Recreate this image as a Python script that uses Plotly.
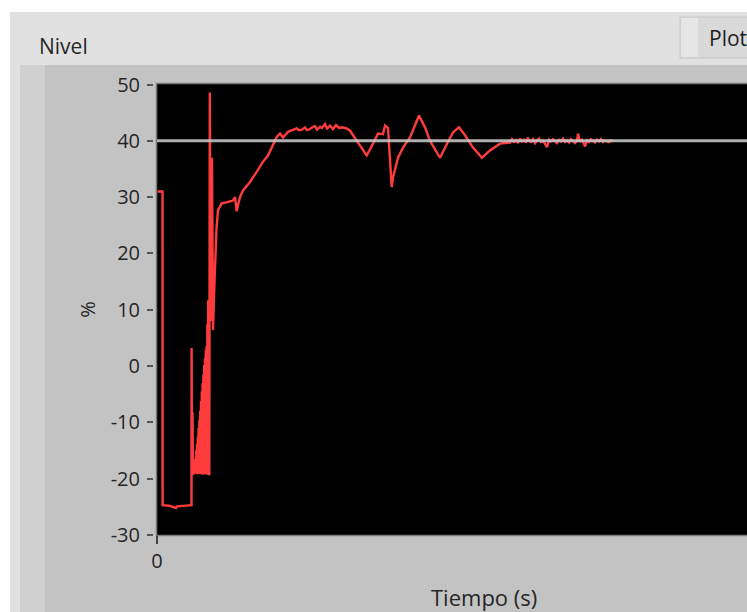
import plotly.graph_objects as go

# ---------------- data ----------------
# time (s) and level (%) of the measured signal
tiempo = [0.5, 5.5, 5.6, 12, 19, 20, 34.5, 34.6, 35.0, 35.5, 36.0, 37.0,
          38.0, 38.4, 38.8, 39.2, 39.6, 40.0, 40.4, 40.8, 41.2, 41.6, 42.0, 42.4,
          42.8, 43.2, 43.6, 44.0, 44.4, 44.8, 45.2, 45.6, 46.0, 46.4, 46.8, 47.2,
          47.6, 48.0, 48.4, 48.8, 49.2, 49.6, 50.0, 50.4, 50.8, 51.2,
          52.3, 52.8, 53.8, 55.0, 56.0, 57.5, 59.5, 61, 64.7, 69.7, 76, 78, 79.7,
          81, 83, 86, 93, 99.7, 106, 111, 114.7, 119.7, 123, 126, 131, 136,
          139.7, 142, 145, 148, 150, 153, 156, 158, 160, 163, 165, 168, 170, 173,
          176, 179, 182, 185, 189.7, 193, 199.7, 209.7, 216, 221, 226, 228, 231,
          233, 234.7, 236, 241, 246, 253, 262, 268, 273, 283, 290, 296, 302, 308,
          316, 325, 333, 343, 353,
          355, 357, 359, 361, 363, 365, 367, 369, 371, 372, 374, 376, 378, 380,
          382, 384, 386, 388, 390, 392, 394, 396, 398, 400, 402, 404, 406, 408,
          410, 412, 414, 416, 418, 420, 421, 423, 425, 427, 428, 430, 432, 434,
          436, 438, 440, 442, 444, 446, 448, 450, 452, 454, 456]
nivel = [31.0, 31.0, -24.7, -24.8, -25.2, -24.9, -24.7, 3.2, -19.0, -8.2, -19.3, -18.8,
         -19.0, -16.5, -19.1, -15.0, -18.9, -13.8, -19.2, -12.5, -19.0, -11.0, -19.1, -9.5,
         -18.9, -8.0, -19.2, -6.2, -19.0, -4.5, -19.1, -3.0, -19.3, -1.5, -19.0, 0.2,
         -19.2, 1.5, -19.1, 2.8, -19.0, 3.6, -19.3, 7.5, -19.1, 11.7,
         -19.4, 48.6, 8.0, 37.0, 6.4, 15.0, 24.4, 27.7, 28.9, 29.1, 29.4, 30.0, 27.5,
         28.6, 30.0, 31.2, 32.7, 34.5, 36.3, 37.4, 38.9, 40.7, 41.3, 40.6, 41.6, 41.9,
         42.2, 41.9, 42.0, 42.4, 41.9, 42.1, 42.5, 42.6, 42.0, 42.5, 42.3, 43.0, 42.2, 42.7,
         42.1, 42.8, 42.3, 42.4, 42.2, 41.8, 40.1, 37.4, 39.5, 41.3, 41.2, 42.7, 42.3,
         37.0, 31.8, 33.5, 37.0, 38.8, 40.6, 44.5, 42.4, 40.0, 37.0, 39.5, 41.5, 42.4, 41.0,
         38.8, 37.0, 38.3, 39.5, 39.7,
         40.3, 39.8, 40.1, 39.6, 40.4, 39.9, 40.2, 39.7, 40.6, 40.0, 39.8, 40.3, 39.6, 40.1,
         40.4, 39.8, 40.0, 39.5, 38.9, 40.2, 39.9, 40.3, 40.0, 39.6, 40.2, 39.9, 40.4, 39.8,
         40.1, 39.7, 40.3, 39.9, 39.6, 40.0, 41.3, 39.8, 40.2, 39.5, 39.0, 40.1, 39.8, 40.3,
         40.0, 39.7, 40.2, 39.9, 40.3, 39.8, 40.1, 40.0, 39.8, 40.1, 39.9]

# set-point
sp_tiempo = [0, 590]
sp_nivel = [40, 40]

y_ticks = [50, 40, 30, 20, 10, 0, -10, -20, -30]
y_ticklabels = ["50", "40", "30", "20", "10", "0", "-10", "-20", "-30"]
x_ticks = [0]
x_ticklabels = ["0"]

# ---------------- layout helpers ----------------
W, H = 747, 612
ML, MR, MT, MB = 153, 0, 84, 77
PW, PH = W - ML - MR, H - MT - MB


def px(x):
    return (x - ML) / PW


def py(y):
    return (H - MB - y) / PH


FONT = "Open Sans"
TXT = "#262626"

fig = go.Figure()
fig.add_trace(go.Scatter(x=tiempo, y=nivel, mode="lines",
                         line=dict(color="#ff3c3c", width=2.4), hoverinfo="skip"))
fig.add_trace(go.Scatter(x=sp_tiempo, y=sp_nivel, mode="lines",
                         line=dict(color="rgba(200,200,200,0.88)", width=3), hoverinfo="skip"))

shapes = [
    # light panel
    dict(type="rect", xref="paper", yref="paper", x0=px(10), x1=px(760), y0=py(12), y1=py(620),
         fillcolor="#e1e1e1", line=dict(width=0), layer="below"),
    # graph frame
    dict(type="rect", xref="paper", yref="paper", x0=px(20), x1=px(760), y0=py(65), y1=py(620),
         fillcolor="#c3c3c3", line=dict(width=0), layer="below"),
    dict(type="rect", xref="paper", yref="paper", x0=px(20), x1=px(45), y0=py(65), y1=py(620),
         fillcolor="#d0d0d0", line=dict(width=0), layer="below"),
    # Plot button
    dict(type="rect", xref="paper", yref="paper", x0=px(680), x1=px(770), y0=py(17), y1=py(58),
         fillcolor="#d9d9d9", line=dict(color="#c8c8c8", width=1), layer="below"),
    dict(type="rect", xref="paper", yref="paper", x0=px(681), x1=px(698), y0=py(18), y1=py(57),
         fillcolor="#e6e6e6", line=dict(width=0), layer="below"),
    # black plot area
    dict(type="rect", xref="paper", yref="paper", x0=px(156.5), x1=px(760), y0=py(83.5), y1=py(535.5),
         fillcolor="black", line=dict(color="#7a7a7a", width=1.5), layer="below"),
]

annotations = [
    dict(text="Nivel", xref="paper", yref="paper", x=px(37), y=py(46), xanchor="left",
         yanchor="middle", showarrow=False, font=dict(family=FONT, size=21, color=TXT)),
    dict(text="Plot", xref="paper", yref="paper", x=px(707), y=py(38), xanchor="left",
         yanchor="middle", showarrow=False, font=dict(family=FONT, size=21, color="#1e1e1e")),
    dict(text="Tiempo (s)", xref="paper", yref="paper", x=px(484), y=py(597), xanchor="center",
         yanchor="middle", showarrow=False, font=dict(family=FONT, size=22, color=TXT)),
]

fig.update_layout(
    width=W, height=H,
    margin=dict(l=ML, r=MR, t=MT, b=MB, pad=0),
    paper_bgcolor="white",
    plot_bgcolor="rgba(0,0,0,0)",
    showlegend=False,
    shapes=shapes,
    annotations=annotations,
    xaxis=dict(domain=[px(157), 1], range=[0, 590], showgrid=False, zeroline=False,
               tickvals=x_ticks, ticktext=x_ticklabels, ticks="outside", ticklen=8,
               tickwidth=1.5, tickcolor="#444444",
               tickfont=dict(family=FONT, size=20, color=TXT), showline=False),
    yaxis=dict(anchor="free", position=0, range=[-30, 50.1], showgrid=False,
               zeroline=False, tickvals=y_ticks, ticktext=y_ticklabels,
               ticks="outside", ticklen=6, tickwidth=2,
               tickcolor="#555555", tickfont=dict(family=FONT, size=20, color=TXT),
               ticklabelstandoff=3,
               title=dict(text="%", font=dict(family=FONT, size=20, color=TXT), standoff=8),
               showline=False),
)

fig.write_html("out.html")
